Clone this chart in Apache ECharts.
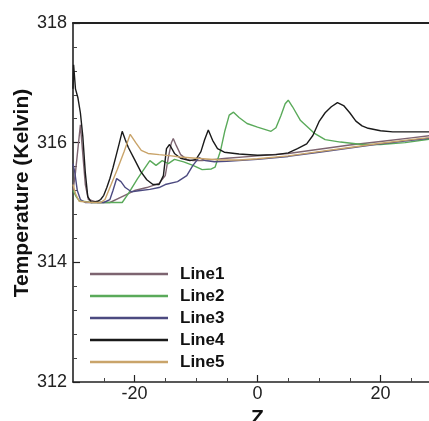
<!DOCTYPE html>
<html><head><meta charset="utf-8">
<script src="https://cdn.jsdelivr.net/npm/echarts@6/dist/echarts.min.js"></script>
<style>html,body{margin:0;padding:0;background:#fff}#c{width:429px;height:421px}</style>
</head><body><div id="c"></div>
<script>
const names = ['Line1','Line2','Line3','Line4','Line5'];
const colors = ['#7d6470','#5aaa5a','#4c4a80','#1a1a1a','#c9a46a'];
const xMajorTicks = [-20,0,20];
const xMinorTicks = [-25,-15,-10,-5,5,10,15,25];

const line1Z = [-30,-29.6,-29.2,-28.8,-28.4,-28,-27.5,-26,-24,-22,-20,-18,-16,-15,-14.5,-14,-13.7,-13.2,-12.5,-11.5,-10.5,-9,-7,-5,0,5,10,15,20,25,30];
const line1T = [315.2,315.5,315.9,316.3,315.8,315.3,315.05,315.0,315.0,315.1,315.2,315.25,315.32,315.45,315.75,316.0,316.07,315.95,315.8,315.72,315.7,315.7,315.72,315.74,315.78,315.82,315.89,315.96,316.02,316.08,316.14];

const line2Z = [-30,-29.5,-29,-27,-22,-21,-19.5,-18.5,-17.5,-16.5,-15.5,-14.5,-13.5,-12,-10.5,-9,-7.5,-6.9,-6,-5.3,-4.6,-3.9,-3,-1.7,0,2.2,3,3.8,4.5,5,5.7,7,9.2,11,13.5,17,20,24,28,30];
const line2T = [315.2,315.1,315.03,315.0,315.0,315.15,315.4,315.55,315.7,315.62,315.7,315.65,315.72,315.68,315.62,315.55,315.56,315.59,315.87,316.2,316.46,316.51,316.42,316.32,316.26,316.19,316.25,316.45,316.65,316.71,316.6,316.37,316.16,316.05,316.01,315.97,315.97,316.0,316.06,316.09];

const line3Z = [-30,-29.7,-29.3,-28.8,-28,-25,-24,-23.5,-22.9,-22.2,-21.5,-20.5,-19,-17.5,-16,-15,-13,-11.5,-10.5,-9.5,-8.5,-7,-5,0,5,10,15,20,25,30];
const line3T = [315.65,315.5,315.2,315.05,315.0,315.0,315.05,315.2,315.4,315.35,315.25,315.18,315.2,315.22,315.25,315.3,315.35,315.45,315.62,315.75,315.7,315.68,315.69,315.72,315.77,315.84,315.91,315.98,316.04,316.1];

const line4Z = [-30,-29.9,-29.6,-29.2,-28.8,-28.4,-28,-27.6,-27,-26,-25.5,-25,-24.5,-24,-23.5,-23,-22.5,-22,-21.5,-21,-20,-19,-18,-17,-16,-15.3,-14.8,-14.3,-13.5,-12.5,-11,-10,-9.2,-8.6,-8,-7.3,-6.5,-5.4,-3,0,3,5,6.5,8,9,10,11,12,13,14,15,16,17,18,20,22,25,30];
const line4T = [316.9,317.3,316.9,316.75,316.5,316.1,315.5,315.1,315.0,315.02,315.05,315.12,315.25,315.4,315.58,315.78,315.98,316.19,316.05,315.92,315.72,315.52,315.38,315.3,315.3,315.45,315.9,315.97,315.82,315.74,315.7,315.72,315.85,316.05,316.21,316.04,315.9,315.84,315.81,315.79,315.8,315.83,315.9,315.98,316.12,316.35,316.5,316.6,316.67,316.62,316.5,316.36,316.28,316.24,316.2,316.18,316.18,316.18];

const line5Z = [-30,-29.6,-29,-27,-25.5,-24.8,-23.8,-22.8,-21.7,-20.7,-19.8,-18.9,-17.8,-16,-14,-12.6,-10,-6,-3,0,5,10,15,20,25,30];
const line5T = [315.3,315.15,315.02,315.0,315.0,315.05,315.3,315.55,315.85,316.14,316.0,315.87,315.82,315.8,315.78,315.76,315.74,315.71,315.71,315.73,315.78,315.85,315.92,315.99,316.05,316.11];

const allZ = [line1Z,line2Z,line3Z,line4Z,line5Z];
const allT = [line1T,line2T,line3T,line4T,line5T];

const FONT = "'Liberation Sans', Arial, sans-serif";
const chart = echarts.init(document.getElementById('c'), null, {renderer:'canvas'});
const series = names.map((n,i)=>({
  name:n, type:'line', xAxisIndex:0, yAxisIndex:0, showSymbol:false, symbol:'none',
  data: allZ[i].map((z,k)=>[z, allT[i][k]]),
  lineStyle:{color:colors[i], width:1.4}, itemStyle:{color:colors[i]},
  animation:false, clip:true
}));
chart.setOption({
  animation:false,
  grid:{left:73, right:-13, top:23, bottom:39, containLabel:false, outerBoundsMode:'none'},
  legend:{
    orient:'vertical', left:85, top:258, itemWidth:78, itemHeight:2.5, itemGap:0,
    icon:'rect', data:names,
    textStyle:{fontFamily:FONT, fontWeight:'bold', fontSize:17, color:'#111', lineHeight:22, padding:[0,0,0,7]}
  },
  xAxis:[
    {type:'value', min:-30, max:30, position:'bottom',
     axisLine:{show:true, onZero:false, lineStyle:{color:'#222', width:1.6}},
     axisTick:{show:true, inside:true, length:7, customValues:xMajorTicks, lineStyle:{color:'#222', width:1.2}},
     axisLabel:{customValues:xMajorTicks, fontFamily:FONT, fontSize:18, color:'#222', margin:3},
     splitLine:{show:false},
     name:'Z', nameLocation:'middle', nameGap:25,
     nameTextStyle:{fontFamily:FONT, fontWeight:'bold', fontSize:21, color:'#111'}},
    {type:'value', min:-30, max:30, position:'bottom',
     axisLine:{show:false, onZero:false},
     axisTick:{show:true, inside:true, length:4, customValues:xMinorTicks, lineStyle:{color:'#444', width:1}},
     axisLabel:{show:false}, splitLine:{show:false}},
    {type:'value', min:-30, max:30, position:'top',
     axisLine:{show:true, onZero:false, lineStyle:{color:'#222', width:2}},
     axisTick:{show:false}, axisLabel:{show:false}, splitLine:{show:false}}
  ],
  yAxis:[{type:'value', min:312, max:318, interval:2, position:'left',
     axisLine:{show:true, onZero:false, lineStyle:{color:'#222', width:1.6}},
     axisTick:{show:true, inside:true, length:7, lineStyle:{color:'#222', width:1.2}},
     minorTick:{show:true, splitNumber:5, length:4, lineStyle:{color:'#444', width:1}},
     axisLabel:{fontFamily:FONT, fontSize:18, color:'#222', margin:6},
     splitLine:{show:false}}],
  graphic:[{type:'text', x:22, y:193, rotation:Math.PI/2,
    style:{text:'Temperature (Kelvin)', font:"bold 21px 'Liberation Sans', Arial, sans-serif", fill:'#111', textAlign:'center', textVerticalAlign:'middle'}}],
  series: series
});
</script></body></html>
